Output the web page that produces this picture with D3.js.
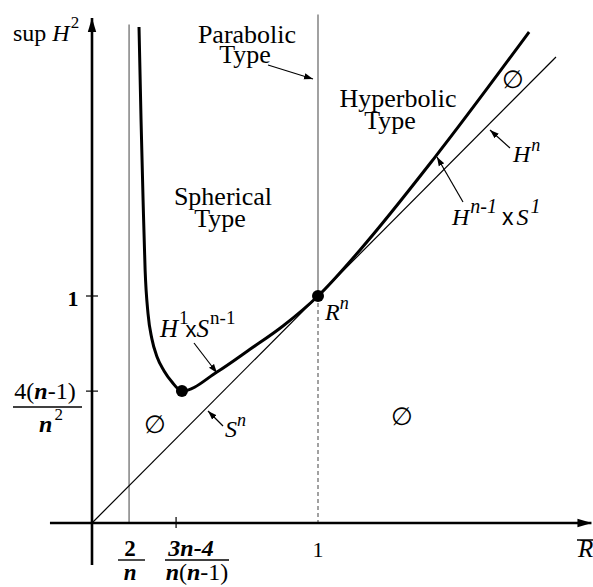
<!DOCTYPE html>
<html><head><meta charset="utf-8">
<script src="https://cdn.jsdelivr.net/npm/d3@7"></script>
<style>
body{margin:0;background:#fff}
svg{display:block}
</style></head><body>
<svg id="c" width="593" height="587" font-family="'Liberation Serif', 'Times New Roman', 'DejaVu Serif', serif"></svg>
<script>
// ---- data (in chart units: x = R-bar, y = sup H^2) ----
const curveX = [0.208, 0.217, 0.226, 0.235, 0.248, 0.265, 0.288, 0.319, 0.354, 0.398, 0.553, 0.699, 0.845, 1.000, 1.186, 1.518, 1.934];
const curveY = [2.185, 1.775, 1.423, 1.115, 0.921, 0.811, 0.731, 0.670, 0.621, 0.581, 0.665, 0.765, 0.868, 1.000, 1.203, 1.612, 2.163];
const diagX = [0, 2.053];
const diagY = [0, 2.053];
const pointX = [0.398, 1];
const pointY = [0.581, 1];
const twoOverN = 0.164;          // vertical line x = 2/n
const xTickVals = [0.372, 1];    // 3n-4/(n(n-1)), 1
const yTickVals = [0.581, 1];    // 4(n-1)/n^2, 1
const xAxisRange = [-0.186, 2.21];
const yAxisRange = [-0.185, 2.225];
const emptyMarks = [[0.279, 0.432], [1.372, 0.467], [1.863, 1.95]];

const SERIF = "'Liberation Serif', 'Times New Roman', 'DejaVu Serif', serif";
const SANS = "'Liberation Sans', Arial, 'DejaVu Sans', sans-serif";

const svg = d3.select("#c");
const x = d3.scaleLinear().domain([0, 1]).range([92, 318]);
const y = d3.scaleLinear().domain([0, 1]).range([523, 296]);

const defs = svg.append("defs");
defs.append("marker").attr("id", "ah").attr("viewBox", "0 0 10 10").attr("refX", 10).attr("refY", 5)
  .attr("markerWidth", 9).attr("markerHeight", 9).attr("markerUnits", "userSpaceOnUse").attr("orient", "auto")
  .append("path").attr("d", "M0,1.5 L10,5 L0,8.5 Z").attr("fill", "#000");
defs.append("marker").attr("id", "axh").attr("viewBox", "0 0 10 10").attr("refX", 10).attr("refY", 5)
  .attr("markerWidth", 14).attr("markerHeight", 14).attr("markerUnits", "userSpaceOnUse").attr("orient", "auto")
  .append("path").attr("d", "M0,2 L10,5 L0,8 Z").attr("fill", "#000");

// vertical guide lines
svg.append("line").attr("x1", x(twoOverN)).attr("x2", x(twoOverN)).attr("y1", y(2.196)).attr("y2", y(0))
  .attr("stroke", "#555").attr("stroke-width", 1.1);
svg.append("line").attr("x1", x(1)).attr("x2", x(1)).attr("y1", y(2.24)).attr("y2", y(1))
  .attr("stroke", "#555").attr("stroke-width", 1.1);
svg.append("line").attr("x1", x(1)).attr("x2", x(1)).attr("y1", y(1)).attr("y2", y(0))
  .attr("stroke", "#555").attr("stroke-width", 1.1).attr("stroke-dasharray", "4,3");

// diagonal y = x
svg.append("line").attr("x1", x(diagX[0])).attr("y1", y(diagY[0])).attr("x2", x(diagX[1])).attr("y2", y(diagY[1]))
  .attr("stroke", "#000").attr("stroke-width", 1.2);

// thick curve
const pts = curveX.map((v, i) => [v, curveY[i]]);
svg.append("path").datum(pts)
  .attr("d", d3.line().x(d => x(d[0])).y(d => y(d[1])).curve(d3.curveMonotoneX))
  .attr("fill", "none").attr("stroke", "#000").attr("stroke-width", 3);

// axes
svg.append("line").attr("x1", x(xAxisRange[0])).attr("x2", x(xAxisRange[1])).attr("y1", y(0)).attr("y2", y(0))
  .attr("stroke", "#000").attr("stroke-width", 2.6).attr("marker-end", "url(#axh)");
svg.append("line").attr("x1", x(0)).attr("x2", x(0)).attr("y1", y(yAxisRange[0])).attr("y2", y(yAxisRange[1]))
  .attr("stroke", "#000").attr("stroke-width", 2.6).attr("marker-end", "url(#axh)");
// ticks
svg.selectAll(".xt").data([xTickVals[0]]).enter().append("line")
  .attr("x1", d => x(d)).attr("x2", d => x(d)).attr("y1", y(0) - 6).attr("y2", y(0) + 5)
  .attr("stroke", "#000").attr("stroke-width", 1.2);
svg.selectAll(".yt").data(yTickVals).enter().append("line")
  .attr("x1", x(0) - 6).attr("x2", x(0) + 6).attr("y1", d => y(d)).attr("y2", d => y(d))
  .attr("stroke", "#000").attr("stroke-width", 1.2);

// points
svg.selectAll(".pt").data(pointX).enter().append("circle")
  .attr("cx", d => x(d)).attr("cy", (d, i) => y(pointY[i])).attr("r", 6).attr("fill", "#000");

// helper for text
function txt(px, py, size, anchor) {
  return svg.append("text").attr("x", px).attr("y", py).attr("font-size", size)
    .attr("font-family", SERIF).attr("fill", "#000").attr("text-anchor", anchor || "start");
}
function it(sel) { return sel.attr("font-style", "italic"); }

// region labels
txt(247, 43, 26, "middle").text("Parabolic");
txt(245, 63, 26, "middle").text("Type");
txt(398, 107, 26, "middle").text("Hyperbolic");
txt(390, 129, 26, "middle").text("Type");
txt(223, 205, 26, "middle").text("Spherical");
txt(220, 227, 26, "middle").text("Type");

// empty-set marks
emptyMarks.forEach(m => {
  txt(x(m[0]), y(m[1]) + 8, 25, "middle").text("\u2205");
});

// y-axis title
let t = txt(13, 41, 24);
t.append("tspan").text("sup ");
it(t.append("tspan")).text("H");
t.append("tspan").attr("font-size", 17).attr("dy", -13).attr("dx", 1).text("2");

// x-axis title R-bar
it(txt(578, 557, 25)).text("R");
svg.append("line").attr("x1", 577).attr("x2", 593).attr("y1", 540).attr("y2", 540).attr("stroke", "#000").attr("stroke-width", 1.5);

// tick labels
txt(x(1), 557, 22, "middle").text("1");
txt(x(0) - 19, 306, 22, "middle").attr("font-weight", "bold").text("1");

// 2/n fraction
txt(x(twoOverN) + 1, 556, 23, "middle").attr("font-weight", "bold").text("2");
svg.append("line").attr("x1", 118).attr("x2", 145).attr("y1", 560).attr("y2", 560).attr("stroke", "#000").attr("stroke-width", 1.4);
it(txt(x(twoOverN) + 1, 580, 23, "middle")).attr("font-weight", "bold").text("n");

// (3n-4)/(n(n-1)) fraction
it(txt(191, 556, 24, "middle")).attr("font-weight", "bold").text("3n-4");
svg.append("line").attr("x1", 165).attr("x2", 229).attr("y1", 560).attr("y2", 560).attr("stroke", "#000").attr("stroke-width", 1.4);
t = txt(197, 580, 24, "middle");
it(t.append("tspan")).attr("font-weight", "bold").text("n");
t.append("tspan").text("(");
it(t.append("tspan")).attr("font-weight", "bold").text("n");
t.append("tspan").text("-1)");

// 4(n-1)/n^2 fraction
t = txt(45, 399, 24, "middle");
t.append("tspan").text("4(");
it(t.append("tspan")).attr("font-weight", "bold").text("n");
t.append("tspan").text("-1)");
svg.append("line").attr("x1", 13).attr("x2", 82).attr("y1", 407).attr("y2", 407).attr("stroke", "#000").attr("stroke-width", 1.4);
t = txt(51, 432, 24, "middle");
it(t.append("tspan")).attr("font-weight", "bold").text("n");
t.append("tspan").attr("font-size", 17).attr("dy", -12).attr("dx", 2).text("2");

// R^n
t = txt(325, 320, 24);
it(t.append("tspan")).text("R");
it(t.append("tspan")).attr("font-size", 18).attr("dy", -11).text("n");

// S^n
t = txt(225, 437, 24);
it(t.append("tspan")).text("S");
it(t.append("tspan")).attr("font-size", 18).attr("dy", -11).text("n");

// H^n
t = txt(513, 162, 24);
it(t.append("tspan")).text("H");
it(t.append("tspan")).attr("font-size", 18).attr("dy", -11).attr("dx", 1).text("n");

// H^{n-1} x S^1
t = txt(452, 225, 24);
it(t.append("tspan")).text("H");
it(t.append("tspan")).attr("font-size", 20).attr("dy", -12).attr("dx", 1).text("n-1");
t.append("tspan").attr("font-family", SANS).attr("font-size", 23).attr("dy", 12).attr("dx", 5).text("x");
it(t.append("tspan")).attr("dx", 3).text("S");
it(t.append("tspan")).attr("font-size", 20).attr("dy", -12).attr("dx", 2).text("1");

// H^1 x S^{n-1}
t = txt(160, 337, 25);
it(t.append("tspan")).text("H");
t.append("tspan").attr("font-size", 19).attr("dy", -13).attr("dx", 1).text("1");
t.append("tspan").attr("font-family", SANS).attr("font-size", 22).attr("dy", 13).attr("dx", -3).text("x");
it(t.append("tspan")).text("S");
t.append("tspan").attr("font-size", 19).attr("dy", -13).attr("dx", 1).text("n-1");

// pointer arrows
const arrows = [
  [268, 65, 313, 79],
  [510, 148, 490, 130],
  [463, 202, 437, 157],
  [223, 426, 208, 411],
  [194, 343, 217, 373]
];
svg.selectAll(".arr").data(arrows).enter().append("line")
  .attr("x1", d => d[0]).attr("y1", d => d[1]).attr("x2", d => d[2]).attr("y2", d => d[3])
  .attr("stroke", "#000").attr("stroke-width", 1.2).attr("marker-end", "url(#ah)");
</script></body></html>
